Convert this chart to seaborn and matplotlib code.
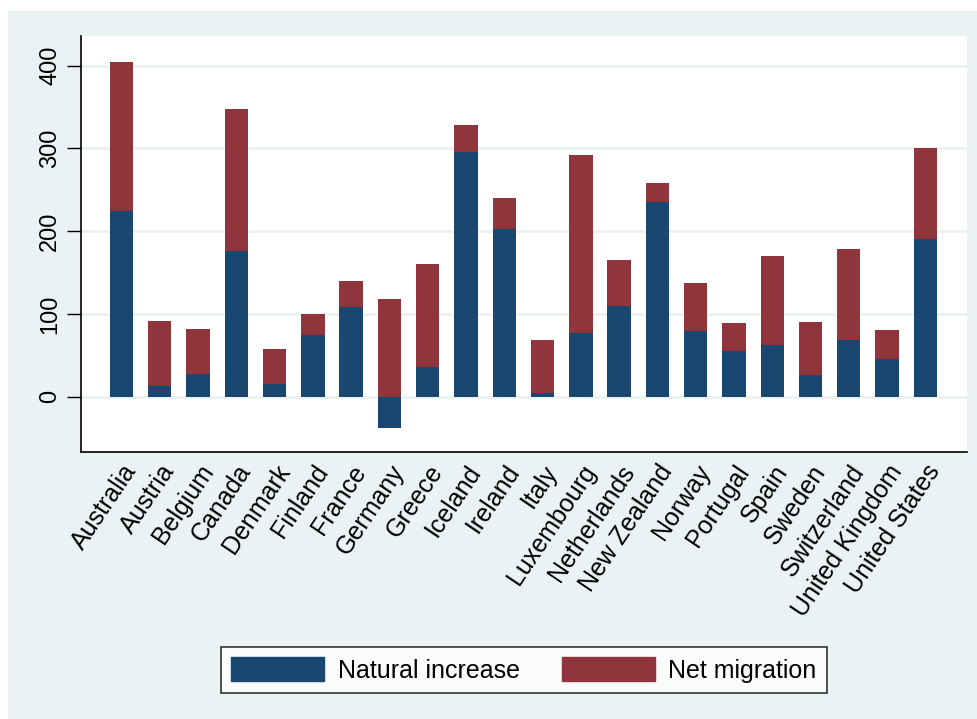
import numpy as np
import pandas as pd
import matplotlib
matplotlib.use("Agg")
import matplotlib.pyplot as plt
import matplotlib.patches as mpatches
import seaborn as sns

countries = ["Australia", "Austria", "Belgium", "Canada", "Denmark", "Finland", "France",
             "Germany", "Greece", "Iceland", "Ireland", "Italy", "Luxembourg", "Netherlands",
             "New Zealand", "Norway", "Portugal", "Spain", "Sweden", "Switzerland",
             "United Kingdom", "United States"]
natural_increase = [224, 13, 28, 176, 15, 74, 108, -37.5, 36, 296, 203, 5, 77, 110,
                    235, 79, 55, 62, 26, 68, 45, 191]
net_migration = [181, 78.5, 53.5, 172, 42.5, 26.5, 31.5, 118.5, 124.5, 32, 37.5, 63.5, 215, 55.5,
                 23.5, 58, 34, 108.5, 64.5, 110, 36, 110]
yticks = [0, 100, 200, 300, 400]

BLUE = "#1A476F"
RED = "#90353B"
BG = "#EAF2F3"

sns.set_theme(style="white")
plt.rcParams['font.family'] = ['Liberation Sans', 'DejaVu Sans']
plt.rcParams['text.color'] = 'black'
plt.rcParams['xtick.color'] = 'black'
plt.rcParams['ytick.color'] = 'black'

df = pd.DataFrame({"country": countries,
                   "natural": natural_increase,
                   "migration": net_migration})
df["top"] = np.maximum(df["natural"], 0) + df["migration"]

fig = plt.figure(figsize=(9.78, 7.19), dpi=100)
fig.patch.set_facecolor("white")
fig.patches.append(mpatches.Rectangle((8 / 978, 0), 1 - 8 / 978, 1 - 11 / 719,
                                      transform=fig.transFigure, facecolor=BG,
                                      edgecolor="none", zorder=-10))

left, right, top, bottom = 80.5, 966.7, 36, 452
ax = fig.add_axes([left / 978, 1 - bottom / 719, (right - left) / 978, (bottom - top) / 719])
ax.set_facecolor("white")

for y in yticks:
    ax.axhline(y, color=BG, lw=2, zorder=0)

sns.barplot(data=df, x="country", y="top", color=RED, saturation=1, width=0.61,
            linewidth=0, ax=ax, zorder=2)
sns.barplot(data=df, x="country", y="natural", color=BLUE, saturation=1, width=0.61,
            linewidth=0, ax=ax, zorder=3)

ax.set_xlim(-1.07, len(countries) - 1 + 1.08)
ax.set_ylim(-66.8, 435.9)
ax.set_yticks(yticks)
ax.set_yticklabels([str(v) for v in yticks], rotation=90, va="center", fontsize=17)
ax.tick_params(axis="y", length=10, width=1, color="black", left=True, pad=4)
ax.tick_params(axis="x", length=0, pad=6)
ax.set_xticks(range(len(countries)))
ax.set_xticklabels(countries, rotation=56, ha="right", rotation_mode="anchor", fontsize=18)
ax.set_xlabel("")
ax.set_ylabel("")
for s in ["top", "right"]:
    ax.spines[s].set_visible(False)
for s in ["left", "bottom"]:
    ax.spines[s].set_color("black")
    ax.spines[s].set_linewidth(1.2)

handles = [mpatches.Patch(color=BLUE, label="Natural increase"),
           mpatches.Patch(color=RED, label="Net migration")]
leg = fig.legend(handles=handles, loc="center", bbox_to_anchor=(524 / 978, 1 - 670 / 719),
                 ncol=2, fontsize=18, frameon=True, fancybox=False, edgecolor="black",
                 handlelength=3.7, handleheight=1.1, columnspacing=1.7, borderpad=0.4,
                 handletextpad=0.55, borderaxespad=0)
leg.get_frame().set_linewidth(1.2)

fig.savefig("out.png", dpi=100, facecolor=fig.get_facecolor())
